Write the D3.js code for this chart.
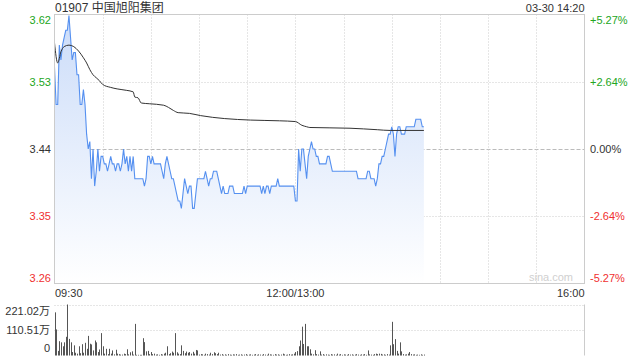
<!DOCTYPE html>
<html>
<head>
<meta charset="utf-8">
<script src="https://cdn.jsdelivr.net/npm/d3@7"></script>
<style>
  body { margin: 0; background: #fff; }
  svg text { font-family: "Liberation Sans", Arial, "Noto Sans CJK SC", sans-serif; }
</style>
</head>
<body>
<script>
var title = "01907 中国旭阳集团",
    stamp = "03-30 14:20",
    prevClose = 3.44,
    maxPct = 0.0527;

var priceTicks = ["3.62", "3.53", "3.44", "3.35", "3.26"],
    pctTicks = ["+5.27%", "+2.64%", "0.00%", "-2.64%", "-5.27%"],
    timeMinutes = [0, 150, 330],
    timeLabels = ["09:30", "12:00/13:00", "16:00"],
    volTicks = ["221.02万", "110.51万", "0"],
    volMax = 221.02;

// one value per minute from 09:30 (lunch break removed)
var price = [
  3.55,3.50,3.50,3.58,3.56,3.58,3.59,3.60,3.60,3.62,
  3.59,3.56,3.57,3.57,3.54,3.54,3.50,3.50,3.52,3.50,
  3.46,3.44,3.45,3.40,3.44,3.39,3.41,3.44,3.41,3.43,
  3.43,3.42,3.42,3.41,3.42,3.43,3.42,3.42,3.41,3.42,
  3.42,3.41,3.42,3.44,3.42,3.43,3.41,3.43,3.41,3.43,
  3.40,3.40,3.40,3.40,3.40,3.40,3.39,3.40,3.43,3.43,
  3.42,3.43,3.42,3.42,3.42,3.42,3.42,3.41,3.40,3.42,
  3.43,3.42,3.41,3.40,3.40,3.39,3.38,3.37,3.37,3.36,
  3.38,3.40,3.39,3.38,3.39,3.39,3.36,3.36,3.38,3.40,
  3.40,3.40,3.40,3.40,3.41,3.40,3.39,3.40,3.40,3.41,
  3.41,3.41,3.40,3.39,3.38,3.39,3.38,3.38,3.38,3.39,
  3.39,3.39,3.38,3.38,3.38,3.38,3.38,3.38,3.39,3.38,
  3.39,3.39,3.39,3.39,3.39,3.39,3.39,3.39,3.39,3.38,
  3.39,3.38,3.39,3.39,3.38,3.39,3.39,3.39,3.39,3.40,
  3.39,3.39,3.39,3.39,3.39,3.39,3.39,3.39,3.39,3.39,
  3.37,3.37,3.44,3.41,3.44,3.44,3.42,3.40,3.43,3.44,
  3.45,3.44,3.44,3.43,3.43,3.42,3.42,3.42,3.42,3.42,
  3.43,3.43,3.42,3.41,3.41,3.41,3.41,3.41,3.41,3.41,
  3.41,3.41,3.41,3.41,3.41,3.41,3.41,3.41,3.41,3.40,
  3.40,3.40,3.40,3.40,3.40,3.41,3.41,3.40,3.40,3.40,
  3.39,3.40,3.42,3.42,3.43,3.43,3.44,3.45,3.46,3.46,
  3.47,3.46,3.43,3.46,3.47,3.47,3.46,3.46,3.46,3.47,
  3.47,3.47,3.47,3.47,3.47,3.48,3.48,3.48,3.48,3.47,
  3.47
];

// average price line, read at these minutes
var avgMinute = [0, 2, 4, 6, 9, 12, 15, 18, 20, 22, 24, 26, 28, 30, 35, 39, 45, 49, 50, 52, 54, 59, 68, 71, 74, 77, 84, 91, 106, 122, 140, 150, 154, 157, 159, 184, 201, 209, 230],
    avgPrice = [3.583, 3.556, 3.571, 3.578, 3.580, 3.578, 3.572, 3.563, 3.556, 3.547, 3.540, 3.536, 3.532, 3.527, 3.523, 3.521, 3.519, 3.517, 3.510, 3.509, 3.502, 3.501, 3.499, 3.496, 3.492, 3.489, 3.488, 3.485, 3.481, 3.479, 3.478, 3.477, 3.472, 3.470, 3.469, 3.468, 3.466, 3.465, 3.465];

// volume per minute, in 万
var volume = [
  187,113,20,62,57,40,57,81,221,72,
  57,15,44,12,8,40,10,49,12,55,
  29,85,51,48,22,65,57,15,26,97,
  40,8,29,6,29,8,22,5,25,8,
  6,4,4,8,6,27,5,14,18,4,
  137,3,3,3,3,75,58,18,20,6,
  15,6,8,4,5,3,6,4,8,12,
  40,6,10,17,12,97,14,8,6,44,
  20,10,17,12,15,8,16,8,24,22,
  4,6,5,3,8,6,4,12,6,14,
  10,6,12,4,6,3,5,3,6,4,
  3,5,4,6,3,4,5,3,4,6,
  3,4,5,3,4,6,3,5,4,3,
  6,4,3,8,5,4,3,6,4,5,
  3,4,8,5,3,4,6,4,5,8,
  15,19,40,65,125,50,137,40,40,27,
  8,5,23,6,4,18,4,6,3,5,
  4,3,6,4,5,3,8,4,6,3,
  5,4,3,6,4,5,3,4,6,4,
  3,5,4,6,3,22,5,4,3,6,
  8,6,8,7,4,5,3,6,4,44,
  146,49,71,20,8,57,18,6,4,5,
  8,15,6,4,5,3,4,3,5,3,
  4
];

var width = 640, height = 360,
    plotLeft = 54.5, plotRight = 584.5,
    plotTop = 14.5, plotBottom = 283.5,
    vTop = 304.5, vBottom = 355.5;

var green = "#22a622", red = "#f03030", ink = "#333";

var svg = d3.select("body").append("svg")
    .attr("width", width)
    .attr("height", height);

var x = d3.scaleLinear().domain([0, 330]).range([plotLeft, plotRight]);
var y = d3.scaleLinear()
    .domain([prevClose * (1 - maxPct), prevClose * (1 + maxPct)])
    .range([plotBottom, plotTop]);
var yv = d3.scaleLinear().domain([0, volMax]).range([vBottom, vTop]);

var grad = svg.append("defs").append("linearGradient")
    .attr("id", "fillGrad")
    .attr("gradientUnits", "userSpaceOnUse")
    .attr("x1", 0).attr("y1", plotTop).attr("x2", 0).attr("y2", plotBottom);
grad.append("stop").attr("offset", 0).attr("stop-color", "#cbdcf9");
grad.append("stop").attr("offset", 1).attr("stop-color", "#ffffff");

// grid
var tickVals = d3.range(5).map(function(k) { return y.domain()[1] - k * (y.domain()[1] - y.domain()[0]) / 4; });
svg.append("g").selectAll("line")
    .data(tickVals.filter(function(d, k) { return k == 1 || k == 3; }))
    .enter().append("line")
    .attr("x1", plotLeft).attr("x2", plotRight)
    .attr("y1", function(d) { return Math.round(y(d)) + 0.5; })
    .attr("y2", function(d) { return Math.round(y(d)) + 0.5; })
    .attr("stroke", "#ccc").attr("stroke-dasharray", "1,2");
svg.append("line")
    .attr("x1", plotLeft).attr("x2", plotRight)
    .attr("y1", Math.round(y(prevClose)) + 0.5).attr("y2", Math.round(y(prevClose)) + 0.5)
    .attr("stroke", "#bbb").attr("stroke-dasharray", "4,2");
svg.append("g").selectAll("line")
    .data(d3.range(30, 330, 30))
    .enter().append("line")
    .attr("x1", function(d) { return Math.round(x(d)) + 0.5; })
    .attr("x2", function(d) { return Math.round(x(d)) + 0.5; })
    .attr("y1", plotTop).attr("y2", plotBottom)
    .attr("stroke", "#ccc").attr("stroke-dasharray", "1,2");

// watermark
svg.append("text")
    .attr("x", 573).attr("y", 281)
    .attr("text-anchor", "end")
    .attr("font-size", 11)
    .attr("fill", "#d0d0d0")
    .text("sina.com");

// price area + line
var area = d3.area()
    .x(function(d, i) { return x(i); })
    .y0(plotBottom)
    .y1(function(d) { return y(d); });
svg.append("path").datum(price)
    .attr("d", area)
    .attr("fill", "url(#fillGrad)");

var line = d3.line()
    .x(function(d, i) { return x(i); })
    .y(function(d) { return y(d); });
svg.append("path").datum(price)
    .attr("d", line)
    .attr("fill", "none")
    .attr("stroke", "#5590f0")
    .attr("stroke-width", 1.1);

var avgLine = d3.line()
    .curve(d3.curveMonotoneX)
    .x(function(d, i) { return x(avgMinute[i]); })
    .y(function(d) { return y(d); });
svg.append("path").datum(avgPrice)
    .attr("d", avgLine)
    .attr("fill", "none")
    .attr("stroke", "#333")
    .attr("stroke-width", 1);

// frame
svg.append("rect")
    .attr("x", plotLeft).attr("y", plotTop)
    .attr("width", plotRight - plotLeft).attr("height", plotBottom - plotTop)
    .attr("fill", "none").attr("stroke", "#ccc");

// axis labels
var priceColors = [green, green, ink, red, red],
    labelY = [plotTop + 9.5, y(tickVals[1]) + 4, y(tickVals[2]) + 4, y(tickVals[3]) + 4, plotBottom - 1.5];
svg.append("g").selectAll("text")
    .data(priceTicks)
    .enter().append("text")
    .attr("x", 51)
    .attr("y", function(d, i) { return labelY[i]; })
    .attr("text-anchor", "end")
    .attr("font-size", 11)
    .attr("fill", function(d, i) { return priceColors[i]; })
    .text(function(d) { return d; });
svg.append("g").selectAll("text")
    .data(pctTicks)
    .enter().append("text")
    .attr("x", 590)
    .attr("y", function(d, i) { return labelY[i]; })
    .attr("font-size", 11)
    .attr("fill", function(d, i) { return priceColors[i]; })
    .text(function(d) { return d; });

var anchors = ["start", "middle", "end"];
svg.append("g").selectAll("text")
    .data(timeLabels)
    .enter().append("text")
    .attr("x", function(d, i) { return i == 0 ? x(timeMinutes[i]) + 0.5 : x(timeMinutes[i]); })
    .attr("y", 297)
    .attr("text-anchor", function(d, i) { return anchors[i]; })
    .attr("font-size", 11)
    .attr("fill", ink)
    .text(function(d) { return d; });

svg.append("text")
    .attr("x", 55).attr("y", 12)
    .attr("font-size", 12)
    .attr("fill", ink)
    .text(title);
svg.append("text")
    .attr("x", plotRight).attr("y", 12)
    .attr("text-anchor", "end")
    .attr("font-size", 11)
    .attr("fill", ink)
    .text(stamp);

// volume panel
[vTop, (vTop + vBottom) / 2].forEach(function(v) {
  svg.append("line")
      .attr("x1", plotLeft).attr("x2", plotRight)
      .attr("y1", Math.round(v) + 0.5).attr("y2", Math.round(v) + 0.5)
      .attr("stroke", "#ccc").attr("stroke-dasharray", "1,2");
});
svg.append("line")
    .attr("x1", plotRight).attr("x2", plotRight)
    .attr("y1", vTop).attr("y2", vBottom)
    .attr("stroke", "#ccc");

svg.append("g").selectAll("rect")
    .data(volume)
    .enter().append("rect")
    .attr("x", function(d, i) { return Math.round(x(i)); })
    .attr("width", 1)
    .attr("y", function(d) { return yv(d); })
    .attr("height", function(d) { return vBottom - yv(d); })
    .attr("fill", "#555");

var volLabelY = [vTop + 10.5, (vTop + vBottom) / 2 + 3.5, vBottom - 4];
svg.append("g").selectAll("text")
    .data(volTicks)
    .enter().append("text")
    .attr("x", 50)
    .attr("y", function(d, i) { return volLabelY[i]; })
    .attr("text-anchor", "end")
    .attr("font-size", 11)
    .attr("fill", ink)
    .text(function(d) { return d; });
</script>
</body>
</html>
